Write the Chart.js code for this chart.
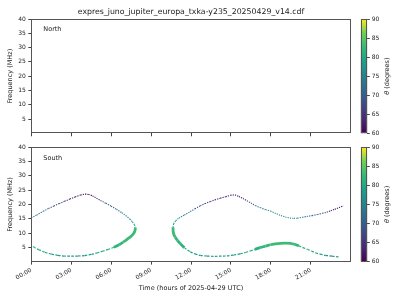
<!DOCTYPE html>
<html>
<head>
<meta charset="utf-8">
<script src="https://cdn.jsdelivr.net/npm/chart.js@4.4.1/dist/chart.umd.min.js"></script>
<style>
  html, body { margin: 0; padding: 0; background: #fff; }
  #wrap { position: relative; width: 400px; height: 300px; overflow: hidden; }
  #wrap canvas { position: absolute; left: 0; top: 0; }
  #title { position: absolute; left: 0; width: 382px; top: 6px; text-align: center;
           font-family: 'DejaVu Sans'; font-size: 7.8px; color: #222; line-height: 11px; }
</style>
</head>
<body>
<div id="wrap">
  <canvas id="north" width="400" height="300"></canvas>
  <canvas id="south" width="400" height="300"></canvas>
  <canvas id="cbNorth" width="400" height="300"></canvas>
  <canvas id="cbSouth" width="400" height="300"></canvas>
  <div id="title">expres_juno_jupiter_europa_txka-y235_20250429_v14.cdf</div>
</div>
<script>
// ---------------- data ----------------
const xTickHours = [0, 3, 6, 9, 12, 15, 18, 21];
const freqTicks = [5, 10, 15, 20, 25, 30, 35, 40];
const thetaTicks = [60, 65, 70, 75, 80, 85, 90];

// South hemisphere, first arc: upper branch (0h -> turning point)
const leftUpperHour  = [0.0, 0.4, 0.9, 1.3, 1.7, 2.1, 2.5, 2.9, 3.3, 3.7, 4.0, 4.3, 4.6, 4.9, 5.2, 5.6, 6.0, 6.4, 6.8, 7.1, 7.4, 7.6, 7.75, 7.82];
const leftUpperFreq  = [15.3, 16.3, 17.6, 18.6, 19.5, 20.3, 21.1, 21.9, 22.6, 23.3, 23.6, 23.5, 23.0, 22.2, 21.4, 20.4, 19.4, 18.3, 17.1, 16.1, 14.9, 13.9, 12.9, 12.0];
const leftUpperTheta = [74, 73, 72, 71, 69, 68, 66, 64, 63, 61, 60, 61, 62, 64, 66, 68, 71, 72, 74, 75, 77, 78, 79, 80];

// first arc: lower branch (turning point -> 0h)
const leftLowerHour  = [7.82, 7.8, 7.7, 7.5, 7.2, 6.9, 6.6, 6.2, 5.8, 5.4, 5.0, 4.5, 4.0, 3.5, 3.0, 2.5, 2.0, 1.5, 1.0, 0.6, 0.3, 0.0];
const leftLowerFreq  = [12.0, 11.0, 9.9, 8.9, 7.8, 6.8, 5.9, 5.0, 4.3, 3.7, 3.1, 2.5, 2.1, 1.95, 1.9, 1.95, 2.2, 2.6, 3.3, 4.1, 4.8, 5.6];
const leftLowerTheta = [83, 83, 83, 83, 83, 83, 82, 82, 81, 80, 80, 79, 79, 78, 78, 78, 79, 80, 81, 81, 82, 82];

// second arc: upper branch (turning point -> end of day)
const rightUpperHour  = [10.65, 10.7, 10.85, 11.1, 11.5, 11.95, 12.3, 12.7, 13.05, 13.45, 13.8, 14.2, 14.6, 14.96, 15.3, 15.6, 15.9, 16.2, 16.5, 16.84, 17.2, 17.6, 17.97, 18.35, 18.7, 19.1, 19.4, 19.73, 20.0, 20.36, 20.7, 21.1, 21.5, 21.87, 22.2, 22.5, 22.8, 23.12, 23.45];
const rightUpperFreq  = [12.0, 13.2, 14.3, 15.2, 16.3, 17.5, 18.5, 19.5, 20.3, 21.0, 21.6, 22.2, 22.7, 23.2, 23.3, 22.8, 22.1, 21.3, 20.5, 19.6, 18.9, 18.2, 17.7, 16.9, 16.2, 15.6, 15.3, 15.15, 15.2, 15.5, 15.8, 16.1, 16.5, 16.9, 17.3, 17.8, 18.3, 18.9, 19.5];
const rightUpperTheta = [80, 79, 77, 76, 74, 72, 70, 68, 67, 65, 64, 63, 62, 61, 60, 61, 63, 66, 68, 71, 73, 75, 76, 76, 76, 76, 76, 76, 75, 74, 72, 71, 69, 67, 66, 64, 63, 62, 61];

// second arc: lower branch (turning point -> end of day)
const rightLowerHour  = [10.65, 10.66, 10.72, 10.82, 10.98, 11.19, 11.5, 11.95, 12.3, 12.7, 13.2, 13.7, 14.2, 14.7, 15.2, 15.7, 16.1, 16.45, 16.8, 17.2, 17.6, 17.97, 18.35, 18.7, 19.1, 19.47, 19.8, 20.1, 20.4, 20.74, 21.05, 21.36, 21.7, 22.1, 22.6, 23.1];
const rightLowerFreq  = [12.0, 10.6, 9.4, 8.5, 7.4, 6.3, 4.9, 3.4, 2.7, 2.15, 1.95, 1.85, 1.9, 2.0, 2.3, 2.7, 3.2, 3.7, 4.3, 4.9, 5.4, 5.9, 6.2, 6.4, 6.5, 6.4, 6.0, 5.5, 4.9, 4.3, 3.7, 3.1, 2.6, 2.2, 1.9, 1.6];
const rightLowerTheta = [83, 83, 83, 83, 82, 82, 81, 80, 79, 79, 78, 78, 78, 78, 79, 79, 80, 80, 81, 82, 82, 83, 83, 83, 83, 83, 83, 82, 81, 80, 80, 79, 79, 78, 77, 77];

// ---------------- styling helpers ----------------
const FONT = 'DejaVu Sans';
const TXT = '#222';
const AX = '#444';
const VIRIDIS = ['#440154', '#482878', '#3e4989', '#31688e', '#26828e', '#1f9e89', '#35b779', '#6ece58', '#fde725'];
const TMIN = 60, TMAX = 90;

function hexRgb(h) { return [1, 3, 5].map(i => parseInt(h.substr(i, 2), 16)); }
const VIR_RGB = VIRIDIS.map(hexRgb);
function viridis(theta) {
  let u = (theta - TMIN) / (TMAX - TMIN);
  u = Math.max(0, Math.min(1, u));
  const p = u * (VIR_RGB.length - 1);
  const i = Math.min(Math.floor(p), VIR_RGB.length - 2);
  const f = p - i;
  const a = VIR_RGB[i], b = VIR_RGB[i + 1];
  const c = a.map((v, k) => Math.round(v + (b[k] - v) * f));
  return `rgb(${c[0]},${c[1]},${c[2]})`;
}

function branch(hours, freqs, thetas, thin, thick, thickRanges, thinDash) {
  const isThick = c => {
    const mid = (hours[c.p0DataIndex] + hours[c.p1DataIndex]) / 2;
    return thickRanges.some(r => mid >= r[0] && mid <= r[1]);
  };
  return {
    data: hours.map((h, i) => ({ x: h, y: freqs[i] })),
    showLine: true,
    pointRadius: 0,
    pointHoverRadius: 0,
    tension: 0.3,
    borderWidth: thin,
    borderCapStyle: 'butt',
    borderColor: viridis(thetas[0]),
    segment: {
      borderColor: c => viridis((thetas[c.p0DataIndex] + thetas[c.p1DataIndex]) / 2),
      borderWidth: c => isThick(c) ? thick : thin,
      borderDash: c => isThick(c) ? [] : thinDash
    }
  };
}

const framePlugin = {
  id: 'frame',
  afterDraw(chart) {
    const { left, top, right, bottom } = chart.chartArea;
    const ctx = chart.ctx;
    ctx.save();
    ctx.strokeStyle = '#555';
    ctx.lineWidth = 1;
    const l = Math.round(left) + 0.5, t = Math.round(top) + 0.5;
    const r = Math.round(right) - 0.5, b = Math.round(bottom) - 0.5;
    ctx.strokeRect(l, t, r - l, b - t);
    ctx.restore();
  }
};

const panelTextPlugin = {
  id: 'panelText',
  afterDraw(chart, args, opts) {
    if (!opts || !opts.text) return;
    const { left, top } = chart.chartArea;
    const ctx = chart.ctx;
    ctx.save();
    ctx.fillStyle = TXT;
    ctx.font = `6.5px "${FONT}"`;
    ctx.textAlign = 'left';
    ctx.textBaseline = 'middle';
    ctx.fillText(opts.text, left + 12, top + 10.8);
    ctx.restore();
  }
};

const cbLabelPlugin = {
  id: 'cbLabel',
  afterDraw(chart) {
    const { top, bottom } = chart.chartArea;
    const ctx = chart.ctx;
    ctx.save();
    ctx.translate(387, (top + bottom) / 2);
    ctx.rotate(-Math.PI / 2);
    ctx.fillStyle = TXT;
    ctx.textBaseline = 'middle';
    const f1 = `italic 6.5px "${FONT}"`, f2 = `6.5px "${FONT}"`;
    ctx.font = f1; const w1 = ctx.measureText('θ').width;
    ctx.font = f2; const w2 = ctx.measureText(' (degrees)').width;
    const x0 = -(w1 + w2) / 2;
    ctx.textAlign = 'left';
    ctx.font = f1; ctx.fillText('θ', x0, 0);
    ctx.font = f2; ctx.fillText(' (degrees)', x0 + w1, 0);
    ctx.restore();
  }
};

function panelOptions(label, top, bottom, showX) {
  return {
    responsive: false,
    animation: false,
    events: [],
    layout: { padding: { left: 0, right: 49.3, top: top, bottom: bottom } },
    plugins: { legend: { display: false }, tooltip: { enabled: false }, panelText: { text: label } },
    scales: {
      x: {
        type: 'linear', min: 0, max: 24,
        afterBuildTicks: s => { s.ticks = xTickHours.map(v => ({ value: v })); },
        ticks: {
          display: showX, autoSkip: false, minRotation: 30, maxRotation: 30,
          font: { family: FONT, size: 6 }, color: TXT, padding: 2,
          callback: v => String(v).padStart(2, '0') + ':00'
        },
        grid: { drawOnChartArea: false, drawTicks: true, tickLength: 3, color: AX },
        border: { display: false },
        title: {
          display: showX, text: 'Time (hours of 2025-04-29 UTC)',
          font: { family: FONT, size: 6.5 }, color: TXT, padding: { top: 8, bottom: 8 }
        },
        afterFit: s => { s.height = showX ? 38.4 : 10; }
      },
      y: {
        min: 0, max: 40,
        afterBuildTicks: s => { s.ticks = freqTicks.map(v => ({ value: v })); },
        ticks: { font: { family: FONT, size: 6 }, color: TXT, padding: 2.5 },
        grid: { drawOnChartArea: false, drawTicks: true, tickLength: 3, color: AX },
        border: { display: false },
        title: {
          display: true, text: 'Frequency (MHz)',
          font: { family: FONT, size: 6.5 }, color: TXT, padding: { top: 6, bottom: 6 }
        },
        afterFit: s => { s.width = 31.3; }
      }
    }
  };
}

// North panel (no emission)
new Chart(document.getElementById('north'), {
  type: 'scatter',
  data: { datasets: [] },
  options: panelOptions('North', 19, 156.7, false),
  plugins: [framePlugin, panelTextPlugin]
});

// South panel
new Chart(document.getElementById('south'), {
  type: 'scatter',
  data: {
    datasets: [
      branch(leftUpperHour, leftUpperFreq, leftUpperTheta, 1.1, 1.1, [], [1.2, 1.1]),
      branch(leftLowerHour, leftLowerFreq, leftLowerTheta, 1.2, 2.8, [[6.3, 7.9]], [2.6, 1.4]),
      branch(rightUpperHour, rightUpperFreq, rightUpperTheta, 1.1, 1.1, [], [1.2, 1.1]),
      branch(rightLowerHour, rightLowerFreq, rightLowerTheta, 1.2, 2.8, [[10.6, 11.35], [17.0, 20.2]], [2.6, 1.4])
    ]
  },
  options: panelOptions('South', 147.3, 0, true),
  plugins: [framePlugin, panelTextPlugin]
});

// Colour bars
function colorbar(id, top, bottom) {
  new Chart(document.getElementById(id), {
    type: 'bar',
    data: {
      labels: [''],
      datasets: [{
        data: [[TMIN, TMAX]],
        borderWidth: 0,
        barPercentage: 1,
        categoryPercentage: 1,
        backgroundColor: c => {
          const area = c.chart.chartArea;
          if (!area) return VIRIDIS[4];
          const g = c.chart.ctx.createLinearGradient(0, area.bottom, 0, area.top);
          VIRIDIS.forEach((col, i) => g.addColorStop(i / (VIRIDIS.length - 1), col));
          return g;
        }
      }]
    },
    options: {
      responsive: false,
      animation: false,
      events: [],
      layout: { padding: { left: 360.7, right: 17.7, top: top, bottom: bottom } },
      plugins: { legend: { display: false }, tooltip: { enabled: false } },
      scales: {
        x: { display: false },
        y: {
          position: 'right', min: TMIN, max: TMAX,
          afterBuildTicks: s => { s.ticks = thetaTicks.map(v => ({ value: v })); },
          ticks: { font: { family: FONT, size: 6 }, color: TXT, padding: 2 },
          grid: { drawOnChartArea: false, drawTicks: true, tickLength: 2.5, color: AX },
          border: { display: false },
          afterFit: s => { s.width = 15; }
        }
      }
    },
    plugins: [framePlugin, cbLabelPlugin]
  });
}
colorbar('cbNorth', 19, 166.7);
colorbar('cbSouth', 147.3, 38.4);
</script>
</body>
</html>
